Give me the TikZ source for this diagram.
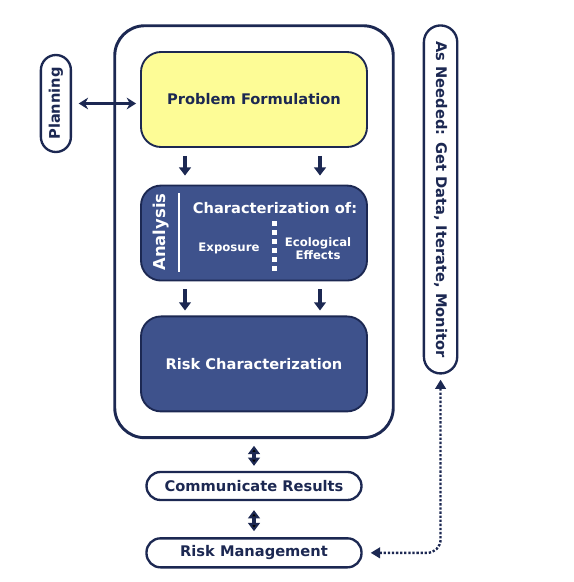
\documentclass[tikz,border=0pt]{standalone}
\usepackage{fontspec}
\setmainfont{DejaVu Sans}
\usepackage{tikz}
\usetikzlibrary{positioning}
\usetikzlibrary{arrows.meta}
\usetikzlibrary{fit,calc}
\definecolor{epanavy}{RGB}{28,40,82}
\definecolor{epablue}{RGB}{62,82,140}
\definecolor{epayellow}{RGB}{253,252,150}
\tikzset{main box/.style={draw=epanavy,line width=1.6pt,rounded corners=0.6cm,minimum width=6.78cm,minimum height=2.85cm,inner sep=0pt,font=\fontsize{12.5}{15}\selectfont\bfseries},
  blue box/.style={main box,fill=epablue,text=white},
  yellow box/.style={main box,fill=epayellow,text=epanavy},
  pill/.style={draw=epanavy,line width=2pt,fill=white,text=epanavy,inner sep=0pt,rounded corners=0.42cm,font=\fontsize{12.5}{15}\selectfont\bfseries},
  small text/.style={text=white,inner sep=0pt,font=\fontsize{10}{11.5}\selectfont\bfseries,align=center},
  down arrow/.style={draw=epanavy,line width=3pt,-{Triangle[width=10pt,length=7pt]}},
  both arrow/.style={draw=epanavy,line width=3pt,{Triangle[width=10pt,length=7pt]}-{Triangle[width=10pt,length=7pt]}},
}

\begin{document}
\begin{tikzpicture}[node distance=1cm]
    \useasboundingbox (0,0) rectangle (17.19,-17.46);
    \node[yellow box] (pf) at (7.62,-2.985) {Problem Formulation};
    \node[blue box] (an) [below = 1.1cm of pf] {};
    \node[blue box] (rc) [below = 1.02cm of an] {Risk Characterization};
    \node[draw=epanavy,line width=2.5pt,rounded corners=0.9cm,inner sep=0.76cm,fit=(pf)(an)(rc)] (outer) {};
    \node[pill,minimum width=6.45cm,minimum height=0.84cm] (cr) [below = 0.95cm of outer] {Communicate Results};
    \node[pill,minimum width=6.45cm,minimum height=0.87cm] (rm) [below = 1.08cm of cr] {Risk Management};
    \node[pill,minimum width=0.9cm,minimum height=2.91cm,rounded corners=0.45cm] (plan) [left = 2.04cm of pf,yshift=-0.12cm] {\rotatebox{90}{Planning}};
    \node[pill,minimum width=1cm,minimum height=10.44cm,rounded corners=0.5cm] (need) [right = 0.84cm of outer.north east,anchor=north west] {\rotatebox{-90}{As Needed: Get Data, Iterate, Monitor}};

    % inside the analysis box
    \node[text=white,inner sep=0pt,font=\fontsize{14}{16}\selectfont\bfseries] (antitle) at ($(an.center)+(-2.79,0.03)$) {\rotatebox{90}{Analysis}};
    \node[text=white,inner sep=0pt,font=\fontsize{12.5}{15}\selectfont\bfseries] (charof) at ($(an.center)+(0.63,0.75)$) {Characterization of:};
    \node[small text] (expo) at ($(an.center)+(-0.75,-0.45)$) {Exposure};
    \node[small text] (eco) at ($(an.center)+(1.92,-0.46)$) {Ecological\\Effects};
    \draw[white,line width=2.5pt] ($(an.center)+(-2.25,1.2)$) -- ($(an.center)+(-2.25,-1.17)$);
    \foreach \k in {0,...,5}
      \fill[white] ($(an.center)+(0.525,0.375-0.27*\k)$) rectangle ++(0.15,-0.15);

    \foreach \dx in {-2.07,1.98} {
      \draw[down arrow,shorten <=0.24cm,shorten >=0.27cm] ($(pf.south)+(\dx,0)$) -- ($(an.north)+(\dx,0)$);
      \draw[down arrow,shorten <=0.24cm,shorten >=0.15cm] ($(an.south)+(\dx,0)$) -- ($(rc.north)+(\dx,0)$);
    }
    \path[both arrow]
    (outer) edge [shorten <=0.2cm,shorten >=0.15cm] (cr)
    (cr) edge [shorten <=0.27cm,shorten >=0.18cm] (rm);
    \draw[epanavy,line width=2.2pt,{Stealth[width=10pt,length=8pt]}-{Stealth[width=10pt,length=8pt]},shorten <=0.2cm,shorten >=0.12cm] (plan) -- (plan -| pf.west);
    \draw[epanavy,line width=2pt,dash pattern=on 2pt off 1.5pt,rounded corners=0.4cm,{Triangle[width=9pt,length=8pt]}-{Triangle[width=9pt,length=8pt]},shorten <=0.15cm,shorten >=0.24cm] (need.south) |- (rm.east);
\end{tikzpicture}
\end{document}
